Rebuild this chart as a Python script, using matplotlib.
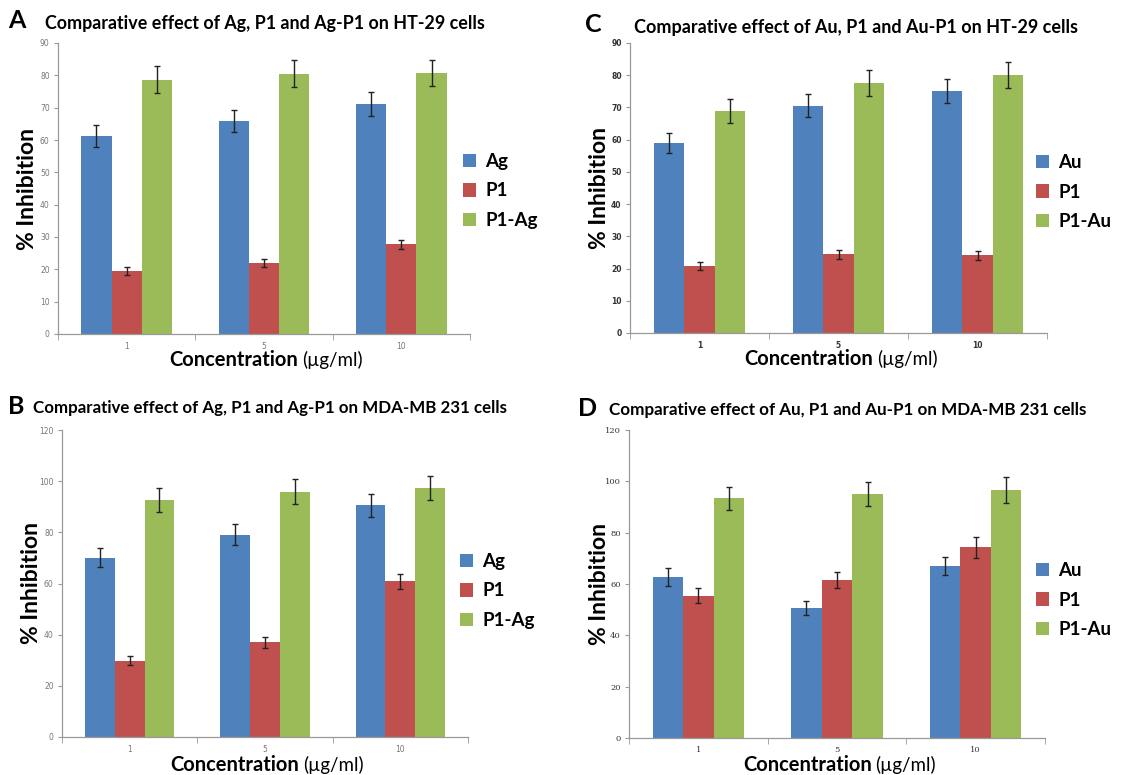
import matplotlib
matplotlib.use("Agg")
import matplotlib.pyplot as plt
import numpy as np

# ---------------- data ----------------
concentrations = ["1", "5", "10"]

# Panel A: Ag / P1 / P1-Ag on HT-29
A_ag = [61.2, 66.0, 71.1]
A_ag_err = [3.3, 3.4, 3.7]
A_p1 = [19.6, 21.9, 27.7]
A_p1_err = [1.2, 1.3, 1.5]
A_p1ag = [78.7, 80.5, 80.7]
A_p1ag_err = [4.1, 4.1, 4.1]

# Panel C: Au / P1 / P1-Au on HT-29
C_au = [59.0, 70.6, 75.1]
C_au_err = [3.1, 3.6, 3.7]
C_p1 = [20.8, 24.5, 24.2]
C_p1_err = [1.2, 1.4, 1.4]
C_p1au = [68.9, 77.5, 80.0]
C_p1au_err = [3.6, 4.0, 4.1]

# Panel B: Ag / P1 / P1-Ag on MDA-MB 231
B_ag = [70.0, 79.1, 90.5]
B_ag_err = [3.7, 4.1, 4.5]
B_p1 = [29.9, 37.0, 60.8]
B_p1_err = [1.9, 2.1, 3.0]
B_p1ag = [92.7, 95.9, 97.4]
B_p1ag_err = [4.8, 5.0, 4.8]

# Panel D: Au / P1 / P1-Au on MDA-MB 231
D_au = [62.9, 50.6, 66.9]
D_au_err = [3.5, 2.6, 3.5]
D_p1 = [55.4, 61.4, 74.3]
D_p1_err = [2.9, 3.1, 4.1]
D_p1au = [93.4, 95.0, 96.5]
D_p1au_err = [4.5, 4.8, 5.0]

labels_ag = ["Ag", "P1", "P1-Ag"]
labels_au = ["Au", "P1", "P1-Au"]
colors = ["#4F81BD", "#C0504D", "#9BBB59"]

W, H = 1137, 775
fig = plt.figure(figsize=(W / 100, H / 100), dpi=100)
FONT = "Lato"


def px_axes(l, r, t, b):
    return [l / W, 1 - b / H, (r - l) / W, (b - t) / H]


def panel(rect, letter, letter_xy, title, title_xy, title_size, series, errs, labels,
          ymax, ystep, tickstyle, legend_xy, xlab_dy):
    ax = fig.add_axes(px_axes(*rect))
    x = np.arange(len(concentrations))
    bw = 0.22
    for i, (vals, ev) in enumerate(zip(series, errs)):
        ax.bar(x + (i - 1) * bw, vals, bw, color=colors[i], label=labels[i],
               yerr=ev, error_kw=dict(ecolor="#222222", elinewidth=1.0,
                                      capsize=2, capthick=1.0), zorder=2)
    ax.set_xlim(-0.5, 2.5)
    ax.set_ylim(0, ymax)
    ax.set_yticks(np.arange(0, ymax + 1, ystep))
    ax.set_xticks(x)
    ax.set_xticklabels(concentrations)
    ax.set_xticks([-0.5, 0.5, 1.5, 2.5], minor=True)
    ax.tick_params(axis="x", which="major", length=0, pad=6)
    ax.tick_params(axis="x", which="minor", length=4, color="#999999")
    ax.tick_params(axis="y", length=3, color="#999999", pad=3)
    for s in ["top", "right"]:
        ax.spines[s].set_visible(False)
    for s in ["left", "bottom"]:
        ax.spines[s].set_color("#999999")
        ax.spines[s].set_linewidth(0.9)
    for lab in ax.get_xticklabels() + ax.get_yticklabels():
        if tickstyle == "gray":
            lab.set_fontfamily("DejaVu Sans")
            lab.set_fontsize(5.5)
            lab.set_color("#777777")
        elif tickstyle == "bold":
            lab.set_fontfamily("DejaVu Sans")
            lab.set_fontsize(5.5)
            lab.set_fontweight("bold")
            lab.set_color("#333333")
        else:
            lab.set_fontfamily("DejaVu Serif")
            lab.set_fontsize(6)
            lab.set_color("#333333")

    # y label
    l, r, t, b = rect
    fig.text((l - 30) / W, 1 - (t + b) / 2 / H, "% Inhibition", rotation=90,
             ha="center", va="center", fontsize=16.5, fontweight="bold",
             family=FONT)
    # x label
    split = l + 0.588 * (r - l)
    ly = 1 - (b + xlab_dy) / H
    fig.text((split - 2) / W, ly, "Concentration", ha="right", va="center",
             fontsize=14.5, fontweight="bold", family=FONT)
    fig.text((split + 2) / W, ly, "(µg/ml)", ha="left", va="center",
             fontsize=13.5, family=FONT)
    # title & letter
    fig.text(title_xy[0] / W, 1 - title_xy[1] / H, title, ha="left",
             va="center", fontsize=title_size, fontweight="bold", family=FONT)
    fig.text(letter_xy[0] / W, 1 - letter_xy[1] / H, letter, ha="left",
             va="center", fontsize=18, fontweight="bold", family=FONT)
    # legend
    ax.legend(loc="center left", bbox_to_anchor=(legend_xy[0] / W, 1 - legend_xy[1] / H),
              bbox_transform=fig.transFigure, frameon=False, handlelength=0.7,
              handleheight=0.7, handletextpad=0.5, labelspacing=0.65,
              borderaxespad=0, borderpad=0,
              prop=dict(family=FONT, weight="bold", size=13.5))
    return ax


panel((58, 470, 43, 334), "A", (8, 21),
      "Comparative effect of Ag, P1 and Ag-P1 on HT-29 cells", (45, 23), 12.9,
      [A_ag, A_p1, A_p1ag], [A_ag_err, A_p1_err, A_p1ag_err], labels_ag,
      90, 10, "gray", (463, 191), 26)

panel((630, 1047, 43, 333), "C", (585, 24),
      "Comparative effect of Au, P1 and Au-P1 on HT-29 cells", (634, 28), 13.0,
      [C_au, C_p1, C_p1au], [C_au_err, C_p1_err, C_p1au_err], labels_au,
      90, 10, "bold", (1036, 192), 26)

panel((62, 468, 430, 737), "B", (8, 407),
      "Comparative effect of Ag, P1 and Ag-P1 on MDA-MB 231 cells", (33, 408), 12.2,
      [B_ag, B_p1, B_p1ag], [B_ag_err, B_p1_err, B_p1ag_err], labels_ag,
      120, 20, "gray", (460, 591), 28)

panel((629, 1045, 430, 738), "D", (578, 409),
      "Comparative effect of Au, P1 and Au-P1 on MDA-MB 231 cells", (609, 410), 12.25,
      [D_au, D_p1, D_p1au], [D_au_err, D_p1_err, D_p1au_err], labels_au,
      120, 20, "serif", (1036, 600), 27)

fig.savefig("out.png", dpi=100)
